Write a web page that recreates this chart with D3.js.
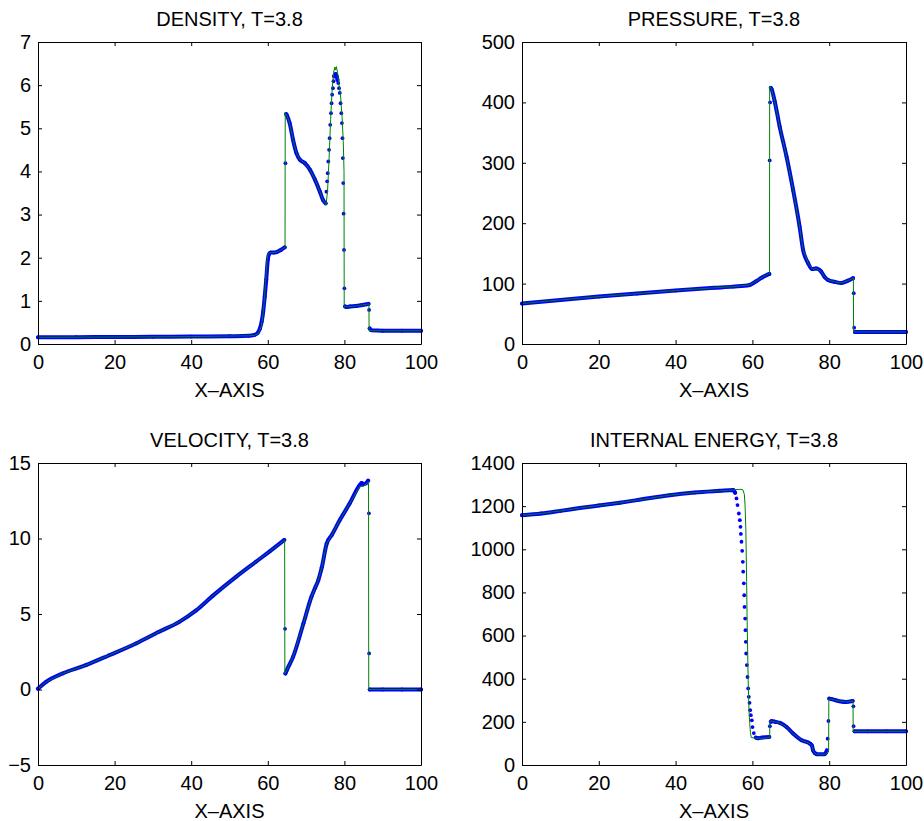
<!DOCTYPE html>
<html>
<head>
<meta charset="utf-8">
<script src="https://cdn.jsdelivr.net/npm/d3@7"></script>
<style>
  body { margin: 0; background: #fff; }
  svg { display: block; }
  text { font-family: "Liberation Sans", Arial, Helvetica, sans-serif; font-size: 20px; fill: #000; }
</style>
</head>
<body>
<svg id="chart" width="924" height="821"></svg>
<script>
// ---------- shared axis values ----------
const xTicks = [0, 20, 40, 60, 80, 100];
const timeLabel = "T=3.8";
const xAxisLabel = "X\u2013AXIS";

// ---------- density ----------
const densityTicks = [0, 1, 2, 3, 4, 5, 6, 7];
// numerical solution, dense part (null = break between smooth pieces)
const densityBandX = [0, 10, 20, 30, 40, 50, 55, 56.5, 57.3, 57.9, 58.4, 58.8, 59.2, 59.6, 60.0, 60.3, 60.7, 61.5, 62.3, 63.4, 64.4, null,
  64.8, 65.0, 65.7, 66.6, 67.5, 68.4, 69.7, 71.0, 72.3, 73.6, 74.4, 75.1, null,
  77.4, 77.7, 78.0, 78.2, null,
  80.2, 80.5, 81.5, 83.0, 84.5, 85.8, 86.3, null,
  86.6, 87.0, 90, 95, 100];
const densityBandY = [0.155, 0.158, 0.162, 0.166, 0.172, 0.18, 0.19, 0.21, 0.25, 0.35, 0.52, 0.75, 1.1, 1.5, 1.95, 2.08, 2.12, 2.12, 2.13, 2.18, 2.24, null,
  5.33, 5.3, 5.12, 4.73, 4.42, 4.27, 4.19, 4.04, 3.81, 3.53, 3.34, 3.26, null,
  6.22, 6.26, 6.2, 6.12, null,
  0.87, 0.86, 0.87, 0.88, 0.9, 0.92, 0.93, null,
  0.36, 0.32, 0.31, 0.31, 0.31];
// numerical solution, separated points inside steep fronts
const densityDotX = [64.6,
  75.3, 75.5, 75.65, 75.8, 76.0, 76.15, 76.3, 76.5, 76.65, 76.8, 77.0, 77.15, 77.3,
  78.4, 78.6, 78.8, 79.0, 79.2, 79.35, 79.5, 79.6, 79.7, 79.8, 79.9, 80.0,
  86.45];
const densityDotY = [4.19,
  3.53, 3.77, 3.96, 4.23, 4.50, 4.77, 5.08, 5.35, 5.58, 5.78, 5.93, 6.09, 6.20,
  6.05, 5.93, 5.82, 5.58, 5.35, 5.12, 4.77, 4.31, 3.73, 3.02, 2.18, 1.29,
  0.79];
// exact solution
const densityExactX = [0, 20, 40, 55, 56.5, 57.5, 58.3, 58.9, 59.4, 59.8, 60.1, 61, 62.3, 63.4, 64.5, 64.55, 65.0, 65.7, 66.6, 67.5, 68.4, 69.7, 71.0, 72.3, 73.6, 74.4, 75.2, 75.6, 76.0, 76.4, 76.8, 77.2, 77.5, 77.7, 77.9, 78.2, 78.6, 79.0, 79.4, 79.7, 79.9, 79.95, 80.5, 83, 85.8, 86.4, 86.45, 90, 100];
const densityExactY = [0.155, 0.162, 0.172, 0.19, 0.2, 0.24, 0.4, 0.8, 1.4, 1.95, 2.1, 2.12, 2.13, 2.18, 2.24, 5.36, 5.3, 5.12, 4.73, 4.42, 4.27, 4.19, 4.04, 3.81, 3.53, 3.34, 3.22, 3.55, 4.3, 5.2, 5.9, 6.3, 6.42, 6.35, 6.43, 6.3, 6.0, 5.75, 5.25, 4.7, 4.0, 0.87, 0.86, 0.88, 0.92, 0.93, 0.31, 0.31, 0.31];

// ---------- pressure ----------
const pressureTicks = [0, 100, 200, 300, 400, 500];
const pressureBandX = [0, 10, 20, 30, 40, 50, 55, 59.3, 61, 62.5, 64.4, null,
  64.8, 65.0, 65.8, 67.1, 68.9, 70.6, 72.3, 73.2, 74.5, 75.6, 76.6, 77.9, 78.8, 79.7, 81.4, 83.2, 84.9, 86.2, null,
  86.7, 90, 95, 100];
const pressureBandY = [67, 73, 78.5, 83.5, 88.5, 93, 95, 97.8, 104, 110, 116, null,
  424, 422, 402, 360, 310, 255, 194, 156, 134, 124, 125, 120, 111, 106, 103, 101, 105, 109, null,
  20, 20, 20, 20];
const pressureDotX = [64.5, 64.6, 86.4, 86.5];
const pressureDotY = [304, 400, 84, 27];
const pressureExactX = [0, 10, 20, 30, 40, 50, 55, 59.3, 61, 62.5, 64.45, 64.5, 65.0, 65.8, 67.1, 68.9, 70.6, 72.3, 73.2, 74.5, 75.6, 76.6, 77.9, 78.8, 79.7, 81.4, 83.2, 84.9, 86.3, 86.35, 100];
const pressureExactY = [67, 73, 78.5, 83.5, 88.5, 93, 95, 97.8, 104, 110, 117, 427, 422, 402, 360, 310, 255, 194, 156, 134, 124, 125, 120, 111, 106, 103, 101, 105, 109, 20, 20];

// ---------- velocity ----------
const velocityTicks = [-5, 0, 5, 10, 15];
const velocityBandX = [0, 2.1, 6.4, 12.5, 18.6, 25.6, 31.6, 36.9, 41.2, 45.6, 51.7, 56.9, 60.5, 64.3, null,
  64.6, 65.0, 66.6, 69.3, 71.4, 72.3, 73.2, 74.1, 75.4, 76.7, 78.8, 81.4, 84.0, 84.5, 85.0, 85.6, 86.2, null,
  86.6, 90, 95, 100];
const velocityBandY = [0.05, 0.5, 1.06, 1.61, 2.27, 3.05, 3.82, 4.48, 5.22, 6.2, 7.46, 8.46, 9.15, 9.9, null,
  1.06, 1.3, 2.16, 4.37, 6.14, 6.7, 7.25, 8.09, 9.68, 10.23, 11.22, 12.33, 13.54, 13.68, 13.6, 13.65, 13.83, null,
  0, 0, 0, 0];
const velocityDotX = [64.5, 86.4, 86.45];
const velocityDotY = [4.02, 11.67, 2.39];
const velocityExactX = [0, 2.1, 6.4, 12.5, 18.6, 25.6, 31.6, 36.9, 41.2, 45.6, 51.7, 56.9, 60.5, 64.4, 64.45, 65.0, 66.6, 69.3, 71.4, 72.3, 73.2, 74.1, 75.4, 76.7, 78.8, 81.4, 84.0, 85.0, 86.3, 86.35, 100];
const velocityExactY = [0.05, 0.5, 1.06, 1.61, 2.27, 3.05, 3.82, 4.48, 5.22, 6.2, 7.46, 8.46, 9.15, 9.9, 1.06, 1.3, 2.16, 4.37, 6.14, 6.7, 7.25, 8.09, 9.68, 10.23, 11.22, 12.33, 13.45, 13.45, 13.75, 0, 0];

// ---------- internal energy ----------
const energyTicks = [0, 200, 400, 600, 800, 1000, 1200, 1400];
const energyBandX = [0, 5, 10, 15, 20, 25.5, 30, 38.5, 45, 51.5, 55, 55.5, null,
  60.9, 61.5, 62.5, 64.4, null,
  64.8, 65.0, 66.0, 67.2, 68.9, 70.6, 72.8, 75.0, 75.5, 75.8, 76.3, 76.7, 78.8, 79.2, 79.4, null,
  80.0, 80.5, 81.7, 84.3, 86.1, null,
  86.6, 90, 95, 100];
const energyBandY = [1158, 1166, 1178, 1191, 1203, 1216, 1228, 1251, 1263, 1271, 1275, 1262, null,
  127, 124, 127, 130, null,
  200, 204, 200, 195, 176, 146, 115, 99, 90, 68, 55, 50, 50, 58, 68, null,
  308, 306, 300, 292, 297, null,
  156, 156, 156, 156];
const energyDotX = [55.86, 56.12, 56.47, 56.73, 56.9, 56.99, 57.16, 57.34, 57.51, 57.6, 57.77, 57.86, 57.95, 58.12, 58.2, 58.29, 58.38, 58.55, 58.73, 58.9, 59.07, 59.25, 59.42, 59.59, 59.85, 60.03, 60.37,
  64.55, 79.6, 79.8, 86.3, 86.35];
const energyDotY = [1236, 1205, 1166, 1135, 1104, 1071, 1035, 993, 942, 896, 842, 787, 733, 679, 625, 571, 517, 463, 408, 355, 316, 288, 254, 231, 207, 176, 148,
  180, 122, 204, 272, 180];
const energyExactX = [0, 5, 10, 15, 20, 25.5, 30, 38.5, 45, 51.5, 55, 56, 57, 57.5, 57.9, 58.1, 58.3, 58.5, 58.6, 58.9, 59.1, 59.3, 59.5, 59.7, 61, 62.5, 64.5, 64.55, 65.0, 66.0, 67.2, 68.9, 70.6, 72.8, 75.0, 75.5, 75.8, 76.3, 76.7, 78.8, 79.5, 79.85, 79.9, 80.5, 81.7, 84.3, 86.2, 86.25, 100];
const energyExactY = [1158, 1166, 1178, 1191, 1203, 1216, 1228, 1251, 1263, 1271, 1275, 1277, 1278, 1276, 1255, 1200, 1089, 850, 702, 393, 260, 192, 150, 127, 124, 124, 127, 200, 204, 200, 195, 176, 146, 115, 99, 90, 68, 55, 50, 50, 55, 70, 305, 306, 300, 292, 297, 156, 156];

// ---------- layout ----------
const panels = [
  { name: "DENSITY", ticks: densityTicks, bx: densityBandX, by: densityBandY, dx: densityDotX, dy: densityDotY, ex: densityExactX, ey: densityExactY,
    left: 38, right: 421, top: 42, bottom: 344 },
  { name: "PRESSURE", ticks: pressureTicks, bx: pressureBandX, by: pressureBandY, dx: pressureDotX, dy: pressureDotY, ex: pressureExactX, ey: pressureExactY,
    left: 522, right: 906, top: 42, bottom: 344 },
  { name: "VELOCITY", ticks: velocityTicks, bx: velocityBandX, by: velocityBandY, dx: velocityDotX, dy: velocityDotY, ex: velocityExactX, ey: velocityExactY,
    left: 38, right: 421, top: 463, bottom: 765 },
  { name: "INTERNAL ENERGY", ticks: energyTicks, bx: energyBandX, by: energyBandY, dx: energyDotX, dy: energyDotY, ex: energyExactX, ey: energyExactY,
    left: 522, right: 906, top: 463, bottom: 765 }
];

const BLUE = "#0000ff";
const GREEN = "#008000";
const svg = d3.select("#chart");
const zip = (xs, ys) => xs.map((x, i) => ({ x: x, y: ys[i] }));
const fmt = d3.format("d");

panels.forEach(p => {
  const w = p.right - p.left, h = p.bottom - p.top;
  const x = d3.scaleLinear().domain([0, 100]).range([0, w]);
  const y = d3.scaleLinear().domain([p.ticks[0], p.ticks[p.ticks.length - 1]]).range([h, 0]);
  const g = svg.append("g").attr("transform", `translate(${p.left},${p.top})`);

  // numerical solution: densely packed points drawn as a thick band
  const band = zip(p.bx, p.by);
  const bandLine = d3.line()
    .defined(d => d.x != null && d.y != null)
    .x(d => x(d.x)).y(d => y(d.y))
    .curve(d3.curveMonotoneX);
  g.append("path").attr("d", bandLine(band))
    .attr("fill", "none").attr("stroke", BLUE).attr("stroke-width", 4)
    .attr("stroke-linecap", "round").attr("stroke-linejoin", "round");

  const pts = band.filter(d => d.x != null && d.y != null).concat(zip(p.dx, p.dy));
  g.selectAll("circle.pt").data(pts).join("circle").attr("class", "pt")
    .attr("cx", d => x(d.x)).attr("cy", d => y(d.y)).attr("r", 1.9).attr("fill", BLUE);

  // exact solution
  const exactLine = d3.line().x(d => x(d.x)).y(d => y(d.y));
  g.append("path").attr("d", exactLine(zip(p.ex, p.ey)))
    .attr("fill", "none").attr("stroke", GREEN).attr("stroke-width", 1);

  // axes with inward ticks on all four sides
  const tk = 4;
  g.append("g").attr("transform", `translate(0,${h})`)
    .call(d3.axisBottom(x).tickValues(xTicks).tickSize(-tk).tickSizeOuter(0).tickPadding(11).tickFormat(fmt));
  g.append("g")
    .call(d3.axisTop(x).tickValues(xTicks).tickSize(-tk).tickSizeOuter(0).tickFormat(""));
  g.append("g")
    .call(d3.axisLeft(y).tickValues(p.ticks).tickSize(-tk).tickSizeOuter(0).tickPadding(7).tickFormat(fmt));
  g.append("g").attr("transform", `translate(${w},0)`)
    .call(d3.axisRight(y).tickValues(p.ticks).tickSize(-tk).tickSizeOuter(0).tickFormat(""));
  g.selectAll(".domain").attr("stroke", "#000").attr("stroke-width", 1);
  g.selectAll(".tick line").attr("stroke", "#000");
  g.selectAll(".tick text").attr("font-size", 20)
    .attr("font-family", "\"Liberation Sans\", Arial, Helvetica, sans-serif").attr("fill", "#000");

  // titles
  g.append("text").attr("x", w / 2).attr("y", -16).attr("text-anchor", "middle")
    .text(`${p.name}, ${timeLabel}`);
  g.append("text").attr("x", w / 2).attr("y", h + 53).attr("text-anchor", "middle")
    .text(xAxisLabel);
});
</script>
</body>
</html>
